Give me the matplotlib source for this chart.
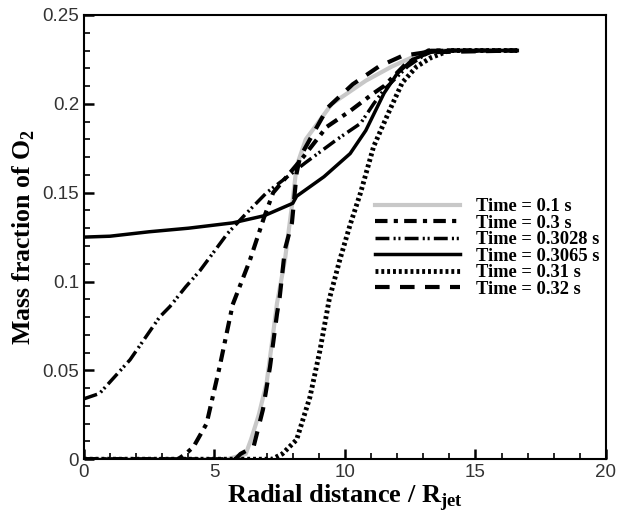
import matplotlib
matplotlib.use("Agg")
import matplotlib.pyplot as plt
from matplotlib.ticker import MultipleLocator

plt.rcParams['mathtext.fontset'] = 'custom'
plt.rcParams['mathtext.rm'] = 'Liberation Serif:bold'
plt.rcParams['mathtext.bf'] = 'Liberation Serif:bold'

# data: radial distance / R_jet vs O2 mass fraction
x_01 = [0, 5.5, 6.2, 6.4, 6.7, 7.0, 7.2, 7.4, 7.7, 8.0, 8.15, 8.5, 9.5, 10.8, 11.8, 12.7, 13.2, 16.6]
y_01 = [0, 0, 0.003, 0.011, 0.025, 0.043, 0.065, 0.088, 0.112, 0.146, 0.165, 0.18, 0.2, 0.213, 0.221, 0.227, 0.23, 0.23]

x_03 = [0, 3.6, 3.9, 4.2, 4.7, 5.2, 5.7, 6.36, 6.9, 7.25, 8.0, 8.4, 9.3, 10.2, 11.1, 11.5, 12.3, 13.2, 16.6]
y_03 = [0, 0, 0.003, 0.007, 0.02, 0.052, 0.087, 0.112, 0.136, 0.15, 0.163, 0.17, 0.187, 0.196, 0.206, 0.21, 0.222, 0.23, 0.23]

x_03028 = [0, 0.6, 1.77, 2.9, 3.3, 3.9, 4.44, 5.5, 6.2, 7.0, 7.8, 8.5, 9.7, 10.6, 11.1, 11.5, 12.4, 13.3, 16.6]
y_03028 = [0.034, 0.037, 0.056, 0.08, 0.086, 0.097, 0.106, 0.127, 0.138, 0.15, 0.159, 0.167, 0.18, 0.189, 0.2, 0.208, 0.221, 0.23, 0.23]

x_03065 = [0, 1.0, 2.5, 4.0, 5.7, 6.9, 8.0, 8.15, 9.2, 10.2, 10.8, 11.5, 12.0, 12.6, 13.3, 14.0, 16.6]
y_03065 = [0.125, 0.1255, 0.128, 0.13, 0.133, 0.137, 0.144, 0.148, 0.159, 0.172, 0.185, 0.206, 0.217, 0.225, 0.229, 0.23, 0.23]

x_031 = [0, 7.2, 7.6, 8.15, 8.66, 9.04, 9.4, 9.8, 10.2, 10.6, 11.1, 11.7, 12.2, 12.75, 13.3, 14.0, 16.6]
y_031 = [0, 0, 0.003, 0.011, 0.035, 0.061, 0.09, 0.112, 0.132, 0.15, 0.176, 0.196, 0.212, 0.221, 0.226, 0.23, 0.23]

x_032 = [0, 5.8, 6.0, 6.5, 6.86, 7.13, 7.4, 7.5, 7.7, 7.97, 8.15, 8.28, 8.85, 9.35, 10.3, 11.3, 12.2, 13.1, 16.6]
y_032 = [0, 0, 0.003, 0.007, 0.028, 0.052, 0.082, 0.091, 0.118, 0.133, 0.161, 0.17, 0.185, 0.198, 0.211, 0.221, 0.227, 0.229, 0.23]

labels = ['Time = 0.1 s', 'Time = 0.3 s', 'Time = 0.3028 s',
          'Time = 0.3065 s', 'Time = 0.31 s', 'Time = 0.32 s']

fig = plt.figure(figsize=(6.26, 5.16), dpi=100)
ax = fig.add_axes([0.134, 0.110, 0.834, 0.861])

ax.plot(x_01, y_01, color='#c8c8c8', lw=3, label=labels[0])
ax.plot(x_03, y_03, color='black', lw=3, linestyle=(0, (3, 1.5, 1, 1.5)), label=labels[1])
ax.plot(x_03028, y_03028, color='black', lw=2.5, linestyle=(0, (4, 1.2, 0.6, 0.8, 0.6, 1.2)), label=labels[2])
ax.plot(x_03065, y_03065, color='black', lw=2.5, label=labels[3])
ax.plot(x_031, y_031, color='black', lw=3.5, linestyle=(0, (0.6, 0.6)), label=labels[4])
ax.plot(x_032, y_032, color='black', lw=3, linestyle=(0, (3.5, 2.5)), label=labels[5])

ax.set_xlim(0, 20)
ax.set_ylim(0, 0.25)
ax.set_xticks([0, 5, 10, 15, 20])
ax.set_xticklabels(['0', '5', '10', '15', '20'])
ax.set_yticks([0, 0.05, 0.1, 0.15, 0.2, 0.25])
ax.set_yticklabels(['0', '0.05', '0.1', '0.15', '0.2', '0.25'])
ax.xaxis.set_minor_locator(MultipleLocator(1))
ax.yaxis.set_minor_locator(MultipleLocator(0.01))
ax.tick_params(which='both', direction='in', top=False, right=False,
               labelsize=13.5, labelcolor='#333333', width=1.2)
ax.tick_params(which='major', length=7, width=1.8)
ax.tick_params(which='minor', length=4)
for lab in ax.get_xticklabels() + ax.get_yticklabels():
    lab.set_family('Liberation Sans')
for s in ax.spines.values():
    s.set_linewidth(1.5)

ax.set_xlabel(r'Radial distance / R$_{\rm jet}$', family='Liberation Serif',
              fontweight='bold', fontsize=19, labelpad=1)
ax.set_ylabel(r'Mass fraction of O$_{\rm 2}$', family='Liberation Serif',
              fontweight='bold', fontsize=18.5, labelpad=4)

leg = ax.legend(loc='upper left', bbox_to_anchor=(0.557, 0.587), frameon=False,
                borderaxespad=0, borderpad=0, handlelength=4.6, handletextpad=0.9,
                labelspacing=-0.03, prop={'family': 'Liberation Serif', 'weight': 'bold', 'size': 13.3})

fig.savefig('out.png', dpi=100)
